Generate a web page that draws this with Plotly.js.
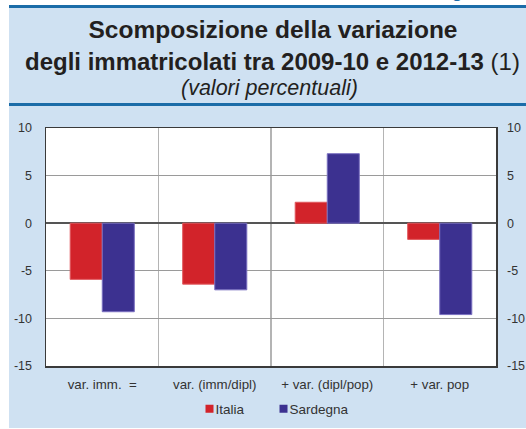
<!DOCTYPE html>
<html>
<head>
<meta charset="utf-8">
<script src="https://cdn.plot.ly/plotly-3.0.1.min.js"></script>
<style>
  html, body { margin: 0; padding: 0; background: #ffffff; }
  #wrap { position: relative; width: 526px; height: 429px; overflow: hidden; background: #ffffff; }
  #panel { position: absolute; left: 9px; top: 6px; width: 530px; height: 422px; background: #cfe1f2; }
  #topline { position: absolute; left: 9px; top: 5px; width: 530px; height: 3px; background: #1b6ca8; }
  #midline { position: absolute; left: 9px; top: 103px; width: 530px; height: 3px; background: #1b6ca8; }
  #chart { position: absolute; left: 0; top: 0; width: 526px; height: 429px; }
  /* pull the small legend swatches next to their labels */
  #chart .legend .legendsymbols { transform: translate(14px, 0px); }
</style>
</head>
<body>
<div id="wrap">
  <div id="panel"></div>
  <div id="topline"></div>
  <div id="midline"></div>
  <div id="chart"></div>
</div>
<script>
// ---- data ----
const categories = ["var. imm.\u00a0\u00a0=", "var. (imm/dipl)", "+ var. (dipl/pop)", "+ var. pop"];
const italia = [-5.9, -6.4, 2.2, -1.7];
const sardegna = [-9.3, -7.0, 7.3, -9.6];
const seriesNames = ["Italia", "Sardegna"];
const yTicks = [-15, -10, -5, 0, 5, 10];

const colItalia = "#d2232a";
const colSardegna = "#3c3190";
const font = "Liberation Sans, Arial, sans-serif";

const traces = [
  { type: "bar", x: categories, y: italia, name: seriesNames[0], showlegend: false,
    marker: { color: colItalia, line: { color: "#e0585d", width: 1 } }, hoverinfo: "y" },
  { type: "bar", x: categories, y: sardegna, name: seriesNames[1], showlegend: false,
    marker: { color: colSardegna, line: { color: "#7a70c0", width: 1 } }, hoverinfo: "y" },
  // legend entries (small square swatches)
  { type: "scatter", mode: "markers", x: [null], y: [null], name: seriesNames[0],
    marker: { symbol: "square", size: 8, color: colItalia } },
  { type: "scatter", mode: "markers", x: [null], y: [null], name: seriesNames[1],
    marker: { symbol: "square", size: 8, color: colSardegna } },
  // invisible trace to drive the right-hand axis
  { type: "scatter", mode: "markers", x: [categories[0]], y: [null], yaxis: "y2",
    showlegend: false, hoverinfo: "skip" }
];

const W = 526, H = 429;
const L = 46, R = 30, T = 128, B = 63;
const py = (px) => (H - B - px) / (H - T - B);
const pxx = (px) => (px - L) / (W - L - R);

const layout = {
  width: W, height: H,
  margin: { l: L, r: R, t: T, b: B, pad: 0 },
  paper_bgcolor: "rgba(0,0,0,0)",
  plot_bgcolor: "#ffffff",
  font: { family: font, size: 12, color: "#333333" },
  bargap: 0.43, bargroupgap: 0,
  barmode: "group",
  title: {
    text: "<b>Scomposizione della variazione</b>",
    font: { family: font, size: 24.5, color: "#231f20" },
    x: 273 / W, xref: "container", xanchor: "center",
    y: 1 - 29.5 / H, yref: "container", yanchor: "middle"
  },
  xaxis: {
    type: "category", automargin: false,
    tickson: "boundaries",
    showgrid: true, gridcolor: "#b4b4b4", gridwidth: 1.5,
    ticks: "", ticklen: 0,
    showline: true, linecolor: "#3a3a3a", linewidth: 1.5, mirror: true,
    tickfont: { family: font, size: 13.3, color: "#333333" },
    ticklabelstandoff: 6,
    fixedrange: true
  },
  yaxis: {
    automargin: false,
    range: [-15, 10], tickvals: yTicks, ticktext: yTicks.map(String),
    showgrid: true, gridcolor: "#9a9a9a", gridwidth: 1,
    zeroline: true, zerolinecolor: "#555555", zerolinewidth: 1.5,
    showline: true, linecolor: "#3a3a3a", linewidth: 1.5, mirror: true,
    ticks: "", ticklabelstandoff: 10,
    tickfont: { family: font, size: 12.5, color: "#333333" },
    fixedrange: true
  },
  yaxis2: {
    automargin: false,
    overlaying: "y", side: "right", matches: "y",
    range: [-15, 10], tickvals: yTicks, ticktext: yTicks.map(String),
    showgrid: false, zeroline: false, showline: false,
    ticks: "", ticklabelstandoff: 10,
    tickfont: { family: font, size: 12.5, color: "#333333" },
    fixedrange: true
  },
  legend: {
    orientation: "h", xref: "container", yref: "container",
    x: 265 / W, xanchor: "center", y: 1 - 409 / H, yanchor: "middle",
    font: { family: font, size: 13.5, color: "#333333" },
    bgcolor: "rgba(0,0,0,0)", itemwidth: 30, traceorder: "normal"
  },
  annotations: [
    { text: "<b>degli immatricolati tra 2009-10 e 2012-13</b> (1)", xref: "paper", yref: "paper",
      x: pxx(272), y: py(61.5), xanchor: "center", yanchor: "middle", showarrow: false,
      font: { family: font, size: 24, color: "#231f20" } },
    { text: "<i>(valori percentuali)</i>", xref: "paper", yref: "paper",
      x: pxx(269), y: py(88), xanchor: "center", yanchor: "middle", showarrow: false,
      font: { family: font, size: 21.5, color: "#231f20" } },
    { text: "<b>Figura 2.1</b>", xref: "paper", yref: "paper",
      x: pxx(435), y: py(4), xanchor: "left", yanchor: "bottom", showarrow: false,
      font: { family: font, size: 17, color: "#1b6ca8" } }
  ]
};

Plotly.newPlot("chart", traces, layout, { displayModeBar: false, staticPlot: true });
</script>
</body>
</html>
